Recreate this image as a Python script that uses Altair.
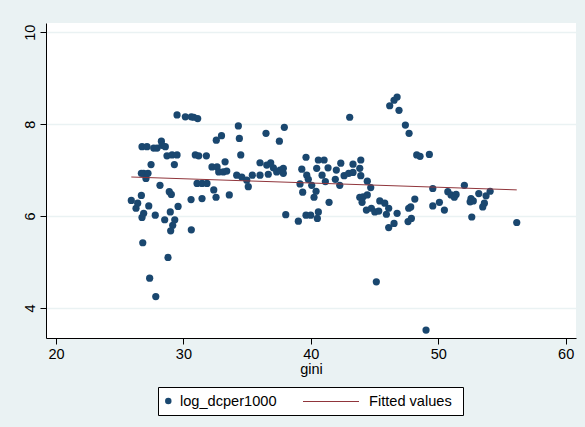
import altair as alt
import pandas as pd

# ---- data ----
gini = [
    25.91, 26.28, 26.41, 26.70, 26.75, 26.88, 27.28, 26.70, 26.88, 27.22,
    27.06, 26.75, 27.14, 27.67, 27.93, 28.27, 28.32, 28.58, 27.46, 28.16,
    27.79, 28.53, 28.97, 29.58, 29.32, 29.16, 29.00, 28.71, 29.11, 29.50,
    29.29, 28.89, 29.05, 29.50, 30.15, 30.62, 30.81, 31.12, 30.60, 31.46,
    30.62, 26.81, 28.79, 27.35, 27.83, 30.93, 31.20, 31.80, 32.58, 32.99,
    32.24, 32.64, 32.77, 31.07, 31.46, 31.85, 32.38, 32.56,
    34.31, 34.39, 34.50, 36.48, 37.92, 37.53, 33.27, 33.13, 33.40, 34.18,
    34.58, 34.97, 35.09, 35.41, 36.01, 36.01, 36.54, 36.85, 36.66, 37.06,
    37.32, 37.58, 37.84, 37.84, 33.60, 38.03, 39.02, 39.62, 39.99, 40.59,
    40.51, 39.62, 39.29, 39.68, 39.80, 39.15, 39.36, 40.25, 40.41, 40.59,
    40.46, 40.07,
    43.05, 46.19, 46.53, 46.77, 46.92, 47.42, 47.71, 48.31, 48.57, 49.30,
    41.04, 41.35, 40.88, 41.14, 41.92, 42.00, 42.35, 42.27, 42.61, 42.97,
    43.31, 43.31, 43.84, 43.92, 43.92, 44.43, 44.70, 43.84, 44.10, 44.43,
    44.02, 44.36, 44.75, 45.02, 45.33, 45.41, 45.80, 46.11, 45.93, 46.77,
    46.11, 46.53, 47.68, 47.84, 48.16, 47.63, 47.89, 41.43, 45.14,
    49.57, 52.05, 50.75, 51.00, 51.40, 51.26, 49.57, 50.09, 50.48, 53.18,
    53.75, 54.07, 52.57, 52.75, 52.50, 53.62, 53.49, 52.63, 56.16, 49.04,
]
log_dcper1000 = [
    6.34, 6.17, 6.28, 6.45, 5.97, 6.06, 6.22, 6.93, 6.93, 6.93,
    6.82, 7.51, 7.51, 7.48, 7.48, 7.63, 7.54, 7.51, 7.12, 6.67,
    6.02, 5.92, 6.09, 6.21, 5.92, 5.80, 5.68, 7.31, 7.33, 7.33,
    7.12, 6.53, 6.47, 8.20, 8.16, 8.16, 8.15, 8.12, 6.36, 6.38,
    5.70, 5.42, 5.10, 4.65, 4.25, 7.33, 7.31, 7.31, 7.65, 7.75,
    7.07, 7.07, 6.96, 6.71, 6.71, 6.71, 6.57, 6.41,
    7.96, 7.69, 7.33, 7.80, 7.93, 7.63, 7.18, 6.96, 6.98, 6.89,
    6.85, 6.78, 6.64, 6.89, 7.16, 6.89, 7.11, 7.16, 6.91, 7.05,
    6.96, 7.00, 7.04, 6.93, 6.46, 6.03, 5.89, 6.02, 6.02, 6.09,
    5.95, 7.28, 7.02, 6.89, 6.80, 6.70, 6.52, 6.41, 6.54, 7.22,
    7.04, 6.67,
    8.15, 8.40, 8.52, 8.59, 8.30, 7.98, 7.80, 7.33, 7.30, 7.34,
    7.22, 7.05, 6.89, 6.75, 6.80, 7.00, 7.15, 6.67, 6.88, 6.93,
    7.13, 6.95, 7.04, 7.22, 6.88, 6.76, 6.62, 6.41, 6.42, 6.46,
    6.30, 6.13, 6.17, 6.09, 6.11, 6.33, 6.28, 6.17, 6.04, 6.06,
    5.75, 5.84, 6.17, 6.20, 6.37, 5.88, 5.95, 6.30, 4.57,
    6.60, 6.67, 6.53, 6.46, 6.47, 6.41, 6.22, 6.30, 6.13, 6.49,
    6.44, 6.54, 6.38, 6.33, 6.31, 6.28, 6.20, 5.98, 5.86, 3.52,
]
fit_gini = [25.91, 56.16]
fitted_values = [6.85, 6.57]

x_ticks = [20, 30, 40, 50, 60]
y_ticks = [4, 6, 8, 10]
legend_labels = ["log_dcper1000", "Fitted values"]

# ---- styling ----
NAVY = "#1a476f"
MAROON = "#90353b"
BG = "#eaf2f3"
FONT = "Liberation Sans"

scatter_df = pd.DataFrame({"gini": gini, "log_dcper1000": log_dcper1000})
fit_df = pd.DataFrame({"gini": fit_gini, "fitted": fitted_values})
leg_df = pd.DataFrame({"label": legend_labels[:1]})

x_scale = alt.Scale(domain=[19.215, 60.81], nice=False, zero=False)
y_scale = alt.Scale(domain=[3.348, 10.2], nice=False, zero=False)

x_axis = alt.Axis(
    values=x_ticks, title="gini", grid=False, tickSize=6, tickColor="black",
    tickWidth=1, domainColor="black", domainWidth=1, labelFont=FONT,
    labelFontSize=14.5, labelColor="black", labelPadding=3, titleFont=FONT,
    titleFontSize=14.5, titleFontWeight="normal", titleColor="black",
    titlePadding=2, format="d",
)
y_axis = alt.Axis(
    values=y_ticks, title=None, grid=True, gridColor=BG, gridWidth=1.5,
    tickSize=6, tickColor="black", tickWidth=1, domainColor="black",
    domainWidth=1, labelFont=FONT, labelFontSize=14.5, labelColor="black",
    labelAngle=270, labelAlign="center", labelBaseline="alphabetic",
    labelPadding=5.5, format="d",
)

points = alt.Chart(scatter_df).mark_circle(size=52, color=NAVY, opacity=1).encode(
    x=alt.X("gini:Q", scale=x_scale, axis=x_axis),
    y=alt.Y("log_dcper1000:Q", scale=y_scale, axis=y_axis),
)

fit = alt.Chart(fit_df).mark_line(color=MAROON, strokeWidth=1).encode(
    x=alt.X("gini:Q", scale=x_scale),
    y=alt.Y("fitted:Q", scale=y_scale),
)

# ---- legend (Stata-style box below the plot) ----
leg_box = alt.Chart(leg_df).mark_rect(fill="white", stroke="black", strokeWidth=1).encode(
    x=alt.value(112.5), x2=alt.value(417.5), y=alt.value(364.5), y2=alt.value(392.5)
)
leg_dot = alt.Chart(leg_df).mark_circle(size=42, color=NAVY, opacity=1).encode(
    x=alt.value(122.3), y=alt.value(378)
)
leg_txt1 = alt.Chart(leg_df).mark_text(
    text=legend_labels[0], align="left", baseline="middle", font=FONT,
    fontSize=14.6, color="black"
).encode(x=alt.value(134), y=alt.value(378.5))
leg_rule = alt.Chart(leg_df).mark_rule(color=MAROON, strokeWidth=1).encode(
    x=alt.value(257), x2=alt.value(313), y=alt.value(378.5)
)
leg_txt2 = alt.Chart(leg_df).mark_text(
    text=legend_labels[1], align="left", baseline="middle", font=FONT,
    fontSize=14.6, color="black"
).encode(x=alt.value(323), y=alt.value(378.5))

chart = alt.layer(points, fit, leg_box, leg_dot, leg_txt1, leg_rule, leg_txt2).properties(
    width=530,
    height=315,
    padding={"left": 46, "top": 23, "right": 9, "bottom": 89},
    autosize=alt.AutoSizeParams(type="none"),
    background=BG,
).configure_view(fill="white", stroke=None)

chart.save("out.html", embed_options={"renderer": "svg", "actions": False})
